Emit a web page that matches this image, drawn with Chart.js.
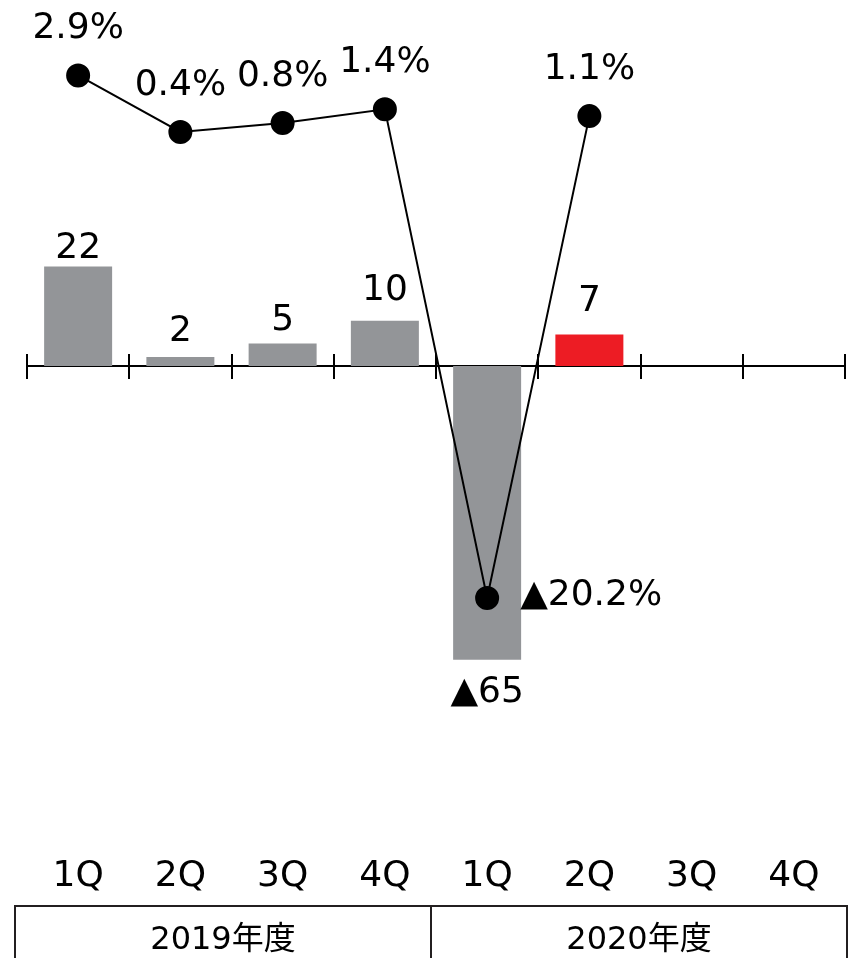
<!DOCTYPE html>
<html>
<head>
<meta charset="utf-8">
<script src="https://cdn.jsdelivr.net/npm/chart.js@4/dist/chart.umd.min.js"></script>
<style>
  html, body { margin: 0; padding: 0; background: #ffffff; }
  #wrap { width: 862px; height: 958px; }
</style>
</head>
<body>
<div id="wrap"><canvas id="c" width="862" height="958"></canvas></div>
<script>
// ---- data ----
const quarters = ['1Q', '2Q', '3Q', '4Q', '1Q', '2Q', '3Q', '4Q'];
const fiscalYears = ['2019年度', '2020年度'];
const profitValues = [22, 2, 5, 10, -65, 7, null, null];
const growthRates = [2.9, 0.4, 0.8, 1.4, -20.2, 1.1, null, null];
const latestIndex = 5;

// ---- styling ----
const FONT = "'DejaVu Sans', 'Noto Sans CJK JP', sans-serif";
const GRAY = '#939598';
const RED = '#ED1C24';
const INK = '#000000';
const barLabelGap = [9, 16, 13, 21, 0, 23, 0, 0];

function fmtNum(v) { return v < 0 ? '▲' + Math.abs(v) : String(v); }
function fmtPct(v) { return v < 0 ? '▲' + Math.abs(v).toFixed(1) + '%' : v.toFixed(1) + '%'; }

const drawPlugin = {
  id: 'drawPlugin',
  beforeDatasetsDraw(chart) {
    const ctx = chart.ctx;
    const x = chart.scales.x;
    const y0 = chart.scales.yBar.getPixelForValue(0);
    ctx.save();
    ctx.strokeStyle = INK;
    ctx.lineWidth = 2;
    ctx.beginPath();
    ctx.moveTo(x.getPixelForValue(-0.5), y0);
    ctx.lineTo(x.getPixelForValue(quarters.length - 0.5), y0);
    ctx.stroke();
    for (let i = 0; i <= quarters.length; i++) {
      const px = Math.round(x.getPixelForValue(i - 0.5));
      ctx.beginPath();
      ctx.moveTo(px, y0 - 12);
      ctx.lineTo(px, y0 + 13);
      ctx.stroke();
    }
    ctx.restore();
  },
  afterDatasetsDraw(chart) {
    const ctx = chart.ctx;
    ctx.save();
    ctx.fillStyle = INK;
    ctx.font = '36px ' + FONT;
    ctx.textBaseline = 'alphabetic';
    // bar labels
    const barMeta = chart.getDatasetMeta(0);
    barMeta.data.forEach((el, i) => {
      const v = profitValues[i];
      if (v === null || v === undefined) return;
      ctx.textAlign = 'center';
      if (v >= 0) {
        ctx.fillText(fmtNum(v), el.x, el.y - barLabelGap[i]);
      } else {
        ctx.fillText(fmtNum(v), el.x, el.y + 42);
      }
    });
    // line labels
    const lineMeta = chart.getDatasetMeta(1);
    lineMeta.data.forEach((el, i) => {
      const v = growthRates[i];
      if (v === null || v === undefined) return;
      if (v >= 0) {
        ctx.textAlign = 'center';
        ctx.fillText(fmtPct(v), el.x, el.y - 37);
      } else {
        ctx.textAlign = 'left';
        ctx.fillText(fmtPct(v), el.x + 33, el.y + 7);
      }
    });
    ctx.restore();
  },
  afterDraw(chart) {
    const ctx = chart.ctx;
    const area = chart.chartArea;
    const left = area.left - 12;
    const right = area.right + 2;
    const mid = (left + right) / 2;
    const top = 906;
    const bottom = chart.height + 2;
    ctx.save();
    ctx.strokeStyle = '#231F20';
    ctx.lineWidth = 2;
    ctx.beginPath();
    ctx.moveTo(left, bottom); ctx.lineTo(left, top); ctx.lineTo(right, top); ctx.lineTo(right, bottom);
    ctx.moveTo(mid, top); ctx.lineTo(mid, bottom);
    ctx.stroke();
    ctx.fillStyle = INK;
    ctx.font = '32px ' + FONT;
    ctx.textAlign = 'center';
    ctx.textBaseline = 'alphabetic';
    ctx.fillText(fiscalYears[0], (left + mid) / 2, 949);
    ctx.fillText(fiscalYears[1], (mid + right) / 2, 949);
    ctx.restore();
  }
};

new Chart(document.getElementById('c'), {
  data: {
    labels: quarters,
    datasets: [
      {
        type: 'bar',
        data: profitValues,
        yAxisID: 'yBar',
        backgroundColor: quarters.map((q, i) => i === latestIndex ? RED : GRAY),
        borderWidth: 0,
        categoryPercentage: 1,
        barPercentage: 0.665,
        order: 2
      },
      {
        type: 'line',
        data: growthRates,
        yAxisID: 'yRate',
        borderColor: INK,
        borderWidth: 2,
        backgroundColor: INK,
        pointBackgroundColor: INK,
        pointBorderColor: INK,
        pointRadius: 11,
        pointHoverRadius: 11,
        tension: 0,
        spanGaps: false,
        clip: false,
        order: 1
      }
    ]
  },
  options: {
    responsive: false,
    devicePixelRatio: 1,
    animation: false,
    layout: { autoPadding: false, padding: { left: 27, right: 17, top: 0, bottom: 57 } },
    plugins: { legend: { display: false }, tooltip: { enabled: false } },
    scales: {
      x: {
        offset: true,
        grid: { display: false, drawTicks: false },
        border: { display: false },
        ticks: { color: INK, font: { family: FONT, size: 36 }, padding: 3, maxRotation: 0, autoSkip: false }
      },
      yBar: {
        position: 'left',
        display: false,
        min: -107.5,
        max: 81.0
      },
      yRate: {
        position: 'right',
        display: false,
        min: -31.42,
        max: 6.233
      }
    }
  },
  plugins: [drawPlugin]
});
</script>
</body>
</html>
